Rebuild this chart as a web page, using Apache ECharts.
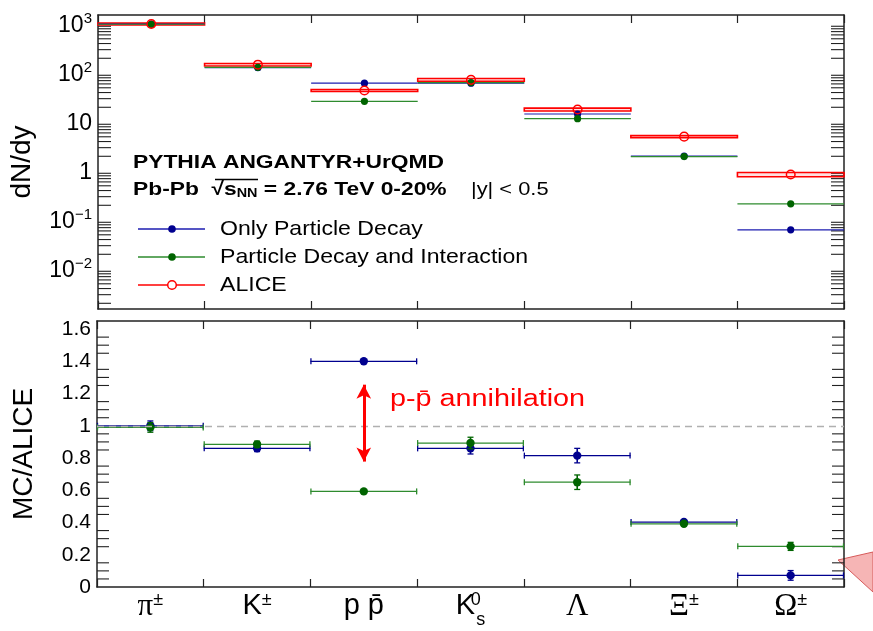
<!DOCTYPE html>
<html>
<head>
<meta charset="utf-8">
<script src="https://cdn.jsdelivr.net/npm/echarts@6/dist/echarts.min.js"></script>
<style>
html, body { margin: 0; padding: 0; background: #fff; }
#chart { width: 873px; height: 631px; }
</style>
</head>
<body>
<div id="chart"></div>
<script>
// particle species (x bins)
var categories = ['π±', 'K±', 'p p̄', 'K0s', 'Λ', 'Ξ±', 'Ω±'];
// label pieces: main text, superscript, subscript, greek (serif)
var labelMain = ['π', 'K', 'p p\u0304', 'K', 'Λ', 'Ξ', 'Ω'];
var labelSup = ['±', '±', '', '0', '', '±', '±'];
var labelSub = ['', '', '', 's', '', '', ''];
var labelGreek = [true, false, false, false, true, true, true];

// dN/dy, top panel
var dndyOnlyDecay = [1000, 128, 62, 62, 14.6, 2.02, 0.063];
var dndyDecayInt = [990, 131, 26.5, 64, 11.7, 1.97, 0.214];
var dndyAlice = [1000, 148, 44, 72.6, 18, 5.03, 0.85];
var aliceSysErr = [0.045, 0.06, 0.045, 0.065, 0.07, 0.05, 0.1];

// MC/ALICE, bottom panel
var ratioOnlyDecay = [1.0, 0.86, 1.40, 0.86, 0.815, 0.403, 0.072];
var ratioOnlyDecayErr = [0.03, 0.02, 0.005, 0.035, 0.045, 0.01, 0.03];
var ratioDecayInt = [0.99, 0.885, 0.593, 0.893, 0.65, 0.392, 0.252];
var ratioDecayIntErr = [0.03, 0.02, 0.005, 0.036, 0.045, 0.01, 0.025];

var decadeExp = [-2, -1, 0, 1, 2, 3];
var ratioTicks = [0, 0.2, 0.4, 0.6, 0.8, 1, 1.2, 1.4, 1.6];

var BLUE = '#00008f', BLUE_LINE = '#1c1cb0';
var GREEN = '#006400', GREEN_LINE = '#2e8b2e';
var RED = '#ff0000';
var FRAME = '#222';

var logMin = 0.00153, logMax = 1528;

// minor tick positions (no labels)
var logMinor = [];
for (var e = -3; e <= 3; e++) {
	for (var m = 2; m <= 9; m++) {
		var t = m * Math.pow(10, e);
		if (t > logMin && t < logMax) logMinor.push([0, t]);
	}
}
var linMinor = [];
for (var k = 1; k < 33; k++) {
	if (k % 4) linMinor.push([0, k * 0.05]);
}

function pairs(vals, errs) {
	return vals.map(function (v, i) { return [i, v, errs ? errs[i] : 0]; });
}

function ln(x1, y1, x2, y2, color, w) {
	return { type: 'line', shape: { x1: x1, y1: y1, x2: x2, y2: y2 }, style: { stroke: color, lineWidth: w } };
}

function mcTopRender(dot, line) {
	return function (params, api) {
		var c = api.coord([api.value(0), api.value(1)]);
		var hw = api.size([1, 1])[0] / 2;
		return { type: 'group', children: [
			ln(c[0] - hw, c[1], c[0] + hw, c[1], line, 1.2),
			{ type: 'circle', shape: { cx: c[0], cy: c[1], r: 3.6 }, style: { fill: dot } }
		] };
	};
}

function aliceRender(params, api) {
	var i = api.value(0), v = api.value(1), e = api.value(2);
	var c = api.coord([i, v]);
	var hi = api.coord([i, v * (1 + e)]), lo = api.coord([i, v * (1 - e)]);
	var hw = api.size([1, 1])[0] / 2;
	return { type: 'group', children: [
		{ type: 'rect', shape: { x: c[0] - hw, y: hi[1], width: 2 * hw, height: lo[1] - hi[1] },
			style: { fill: 'rgba(255,0,0,0.12)', stroke: RED, lineWidth: 1.6 } },
		{ type: 'circle', z2: 20, shape: { cx: c[0], cy: c[1], r: 4.3 },
			style: { fill: 'none', stroke: RED, lineWidth: 1.5 } }
	] };
}

function mcRatioRender(dot, line) {
	return function (params, api) {
		var i = api.value(0), v = api.value(1), e = api.value(2);
		var c = api.coord([i, v]);
		var hi = api.coord([i, v + e]), lo = api.coord([i, v - e]);
		var hw = api.size([1, 1])[0] / 2;
		return { type: 'group', children: [
			ln(c[0] - hw, c[1], c[0] + hw, c[1], line, 1.3),
			ln(c[0] - hw + 0.5, c[1] - 3, c[0] - hw + 0.5, c[1] + 3, line, 1.3),
			ln(c[0] + hw - 0.5, c[1] - 3, c[0] + hw - 0.5, c[1] + 3, line, 1.3),
			ln(c[0], hi[1], c[0], lo[1], dot, 1.6),
			ln(c[0] - 3, hi[1], c[0] + 3, hi[1], dot, 1.3),
			ln(c[0] - 3, lo[1], c[0] + 3, lo[1], dot, 1.3),
			{ type: 'circle', shape: { cx: c[0], cy: c[1], r: 4.2 }, style: { fill: dot } }
		] };
	};
}

function minorTickRender(len) {
	return function (params, api) {
		var y = api.coord([0, api.value(1)])[1];
		var cs = params.coordSys;
		return { type: 'group', children: [
			ln(cs.x, y, cs.x + len, y, FRAME, 1.1),
			ln(cs.x + cs.width - len, y, cs.x + cs.width, y, FRAME, 1.1)
		] };
	};
}

function xAxisOpt(grid, pos, labels) {
	return {
		type: 'category', gridIndex: grid, position: pos, data: categories, boundaryGap: true,
		axisLine: { show: true, onZero: false, lineStyle: { color: FRAME, width: 1.5 } },
		axisTick: { show: true, inside: true, length: 8, interval: 0, lineStyle: { color: FRAME, width: 1.2 } },
		axisLabel: labels ? {
			show: true, interval: 0, margin: 4, color: '#000',
			formatter: function (val, idx) {
				var s = labelGreek[idx] ? '{g|' + labelMain[idx] + '}' : '{l|' + labelMain[idx] + '}';
				if (labelSup[idx]) s += labelSub[idx] ? '{supz|' + labelSup[idx] + '}' : '{sup|' + labelSup[idx] + '}';
				if (labelSub[idx]) s += '{sub|' + labelSub[idx] + '}';
				return s;
			},
			rich: {
				g: { fontFamily: 'Liberation Serif', fontSize: 31, lineHeight: 32, verticalAlign: 'top', color: '#000' },
				l: { fontFamily: 'Liberation Sans', fontSize: 29, lineHeight: 32, verticalAlign: 'top', color: '#000' },
				sup: { fontFamily: 'Liberation Sans', fontSize: 18, lineHeight: 18, verticalAlign: 'top', color: '#000' },
				supz: { fontFamily: 'Liberation Sans', fontSize: 18, lineHeight: 18, width: 1, verticalAlign: 'top', color: '#000' },
				sub: { fontFamily: 'Liberation Sans', fontSize: 18, lineHeight: 18, padding: [20, 0, 0, 0], verticalAlign: 'top', color: '#000' }
			}
		} : { show: false },
		splitLine: { show: false }
	};
}

var frameLine = { show: true, lineStyle: { color: FRAME, width: 1.5 } };

var option = {
	animation: false,
	backgroundColor: '#fff',
	grid: [
		{ left: 97, right: 29, top: 15, height: 294 },
		{ left: 97, right: 29, top: 321, height: 266 }
	],
	xAxis: [
		xAxisOpt(0, 'bottom', false),
		xAxisOpt(0, 'top', false),
		xAxisOpt(1, 'bottom', true),
		xAxisOpt(1, 'top', false)
	],
	yAxis: [
		{
			type: 'log', gridIndex: 0, position: 'left', min: logMin, max: logMax, logBase: 10,
			name: 'dN/dy', nameLocation: 'middle', nameGap: 62,
			nameTextStyle: { fontFamily: 'Liberation Sans', fontSize: 28, color: '#000' },
			axisLine: frameLine,
			axisTick: { inside: true, length: 25, lineStyle: { color: FRAME, width: 1.2 } },
			axisLabel: {
				margin: 6, showMinLabel: false, showMaxLabel: false,
				formatter: function (v) {
					var ex = Math.round(Math.log(v) / Math.LN10);
					if (decadeExp.indexOf(ex) < 0) return '';
					if (ex === 0) return '{b|1}';
					if (ex === 1) return '{b|10}';
					return '{b|10}{e|' + String(ex).replace('-', '\u2212') + '}';
				},
				rich: {
					b: { fontFamily: 'Liberation Sans', fontSize: 23, color: '#000', lineHeight: 26, verticalAlign: 'bottom' },
					e: { fontFamily: 'Liberation Sans', fontSize: 15, color: '#000', lineHeight: 26, verticalAlign: 'top' }
				}
			},
			splitLine: { show: false }
		},
		{
			type: 'log', gridIndex: 0, position: 'right', min: logMin, max: logMax, logBase: 10,
			axisLine: frameLine,
			axisTick: { inside: true, length: 24, lineStyle: { color: FRAME, width: 1.2 } },
			axisLabel: { show: false }, splitLine: { show: false }
		},
		{
			type: 'value', gridIndex: 1, position: 'left', min: 0, max: 1.65, interval: 0.2,
			name: 'MC/ALICE', nameLocation: 'middle', nameGap: 59,
			nameTextStyle: { fontFamily: 'Liberation Sans', fontSize: 28, color: '#000' },
			axisLine: frameLine,
			axisTick: { inside: true, length: 22, lineStyle: { color: FRAME, width: 1.2 } },
			axisLabel: {
				margin: 6, showMaxLabel: false, fontFamily: 'Liberation Sans', fontSize: 21, color: '#000',
				formatter: function (v) { return ratioTicks.indexOf(Math.round(v * 10) / 10) >= 0 ? String(Math.round(v * 10) / 10) : ''; }
			},
			splitLine: { show: false }
		},
		{
			type: 'value', gridIndex: 1, position: 'right', min: 0, max: 1.65, interval: 0.2,
			axisLine: frameLine,
			axisTick: { inside: true, length: 22, lineStyle: { color: FRAME, width: 1.2 } },
			axisLabel: { show: false }, splitLine: { show: false }
		}
	],
	series: [
		{ type: 'custom', name: 'minorLog', xAxisIndex: 0, yAxisIndex: 0, silent: true,
			renderItem: minorTickRender(13), data: logMinor, encode: { x: 0, y: 1 } },
		{ type: 'custom', name: 'minorLin', xAxisIndex: 2, yAxisIndex: 2, silent: true,
			renderItem: minorTickRender(12), data: linMinor, encode: { x: 0, y: 1 } },
		{ type: 'custom', name: 'ALICE', xAxisIndex: 0, yAxisIndex: 0,
			renderItem: aliceRender, data: pairs(dndyAlice, aliceSysErr), encode: { x: 0, y: 1 } },
		{ type: 'custom', name: 'Only Particle Decay', xAxisIndex: 0, yAxisIndex: 0,
			renderItem: mcTopRender(BLUE, BLUE_LINE), data: pairs(dndyOnlyDecay), encode: { x: 0, y: 1 } },
		{ type: 'custom', name: 'Particle Decay and Interaction', xAxisIndex: 0, yAxisIndex: 0,
			renderItem: mcTopRender(GREEN, GREEN_LINE), data: pairs(dndyDecayInt), encode: { x: 0, y: 1 } },
		{
			type: 'line', name: 'ref', xAxisIndex: 2, yAxisIndex: 2, data: [], silent: true,
			markLine: {
				silent: true, animation: false, symbol: ['none', 'none'],
				data: [
					{ yAxis: 1, label: { show: false },
						lineStyle: { color: '#b0b0b0', type: [7, 5], width: 1.3 } },
					[
						{ coord: [2, 1.255], symbol: 'arrow', symbolSize: [11, 14] },
						{ coord: [2, 0.778], symbol: 'arrow', symbolSize: [11, 14] }
					]
				],
				label: { show: false },
				lineStyle: { color: RED, width: 3, type: 'solid' }
			}
		},
		{ type: 'custom', name: 'Only Particle Decay', xAxisIndex: 2, yAxisIndex: 2,
			renderItem: mcRatioRender(BLUE, BLUE), data: pairs(ratioOnlyDecay, ratioOnlyDecayErr), encode: { x: 0, y: 1 } },
		{ type: 'custom', name: 'Particle Decay and Interaction', xAxisIndex: 2, yAxisIndex: 2,
			renderItem: mcRatioRender(GREEN, GREEN_LINE), data: pairs(ratioDecayInt, ratioDecayIntErr), encode: { x: 0, y: 1 } }
	],
	graphic: [
		{ type: 'text', x: 133, y: 163, scaleX: 1.2, style: { text: 'PYTHIA ANGANTYR+UrQMD', fontFamily: 'Liberation Sans',
			fontWeight: 'bold', fontSize: 19, fill: '#000', verticalAlign: 'middle' } },
		{ type: 'text', x: 133, y: 190, scaleX: 1.2, style: {
			text: 'Pb-Pb  \u221A{s|s}{n|NN}{t| = 2.76 TeV 0-20%}', fontFamily: 'Liberation Sans',
			fontWeight: 'bold', fontSize: 19, fill: '#000', verticalAlign: 'middle',
			rich: {
				s: { fontFamily: 'Liberation Sans', fontWeight: 'bold', fontSize: 19, fill: '#000' },
				n: { fontFamily: 'Liberation Sans', fontWeight: 'bold', fontSize: 12, fill: '#000', padding: [8, 0, 0, 0] },
				t: { fontFamily: 'Liberation Sans', fontWeight: 'bold', fontSize: 19, fill: '#000' }
			} } },
		// overline of the square root
		{ type: 'line', shape: { x1: 215, y1: 179.5, x2: 258, y2: 179.5 }, style: { stroke: '#000', lineWidth: 1.4 } },
		{ type: 'text', x: 471, y: 190, scaleX: 1.15, style: { text: '|y| < 0.5', fontFamily: 'Liberation Sans',
			fontSize: 19, fill: '#000', verticalAlign: 'middle' } },
		// legend
		{ type: 'line', shape: { x1: 138, y1: 229, x2: 205, y2: 229 }, style: { stroke: BLUE_LINE, lineWidth: 1.3 } },
		{ type: 'circle', shape: { cx: 172, cy: 229, r: 3.8 }, style: { fill: BLUE } },
		{ type: 'text', x: 220, y: 229, scaleX: 1.1, style: { text: 'Only Particle Decay', fontFamily: 'Liberation Sans',
			fontSize: 21, fill: '#000', verticalAlign: 'middle' } },
		{ type: 'line', shape: { x1: 138, y1: 257, x2: 205, y2: 257 }, style: { stroke: GREEN_LINE, lineWidth: 1.3 } },
		{ type: 'circle', shape: { cx: 172, cy: 257, r: 3.8 }, style: { fill: GREEN } },
		{ type: 'text', x: 220, y: 257, scaleX: 1.1, style: { text: 'Particle Decay and Interaction', fontFamily: 'Liberation Sans',
			fontSize: 21, fill: '#000', verticalAlign: 'middle' } },
		{ type: 'line', shape: { x1: 138, y1: 285, x2: 205, y2: 285 }, style: { stroke: RED, lineWidth: 1.3 } },
		{ type: 'circle', shape: { cx: 172, cy: 285, r: 4.3 }, style: { fill: '#fff', stroke: RED, lineWidth: 1.5 } },
		{ type: 'text', x: 220, y: 285, scaleX: 1.1, style: { text: 'ALICE', fontFamily: 'Liberation Sans',
			fontSize: 21, fill: '#000', verticalAlign: 'middle' } },
		// annotation in ratio panel
		{ type: 'text', x: 390, y: 400, scaleX: 1.25, style: { text: 'p-p\u0304 annihilation', fontFamily: 'Liberation Sans',
			fontSize: 23, fill: RED, verticalAlign: 'middle' } },
		// callout pointer at the right edge
		{ type: 'polygon', shape: { points: [[838, 560], [873, 552], [873, 592]] },
			style: { fill: '#f6b5b5', stroke: '#d65a5a', lineWidth: 1 } }
	]
};

var myChart = echarts.init(document.getElementById('chart'), null, { renderer: 'canvas' });
myChart.setOption(option);
</script>
</body>
</html>
